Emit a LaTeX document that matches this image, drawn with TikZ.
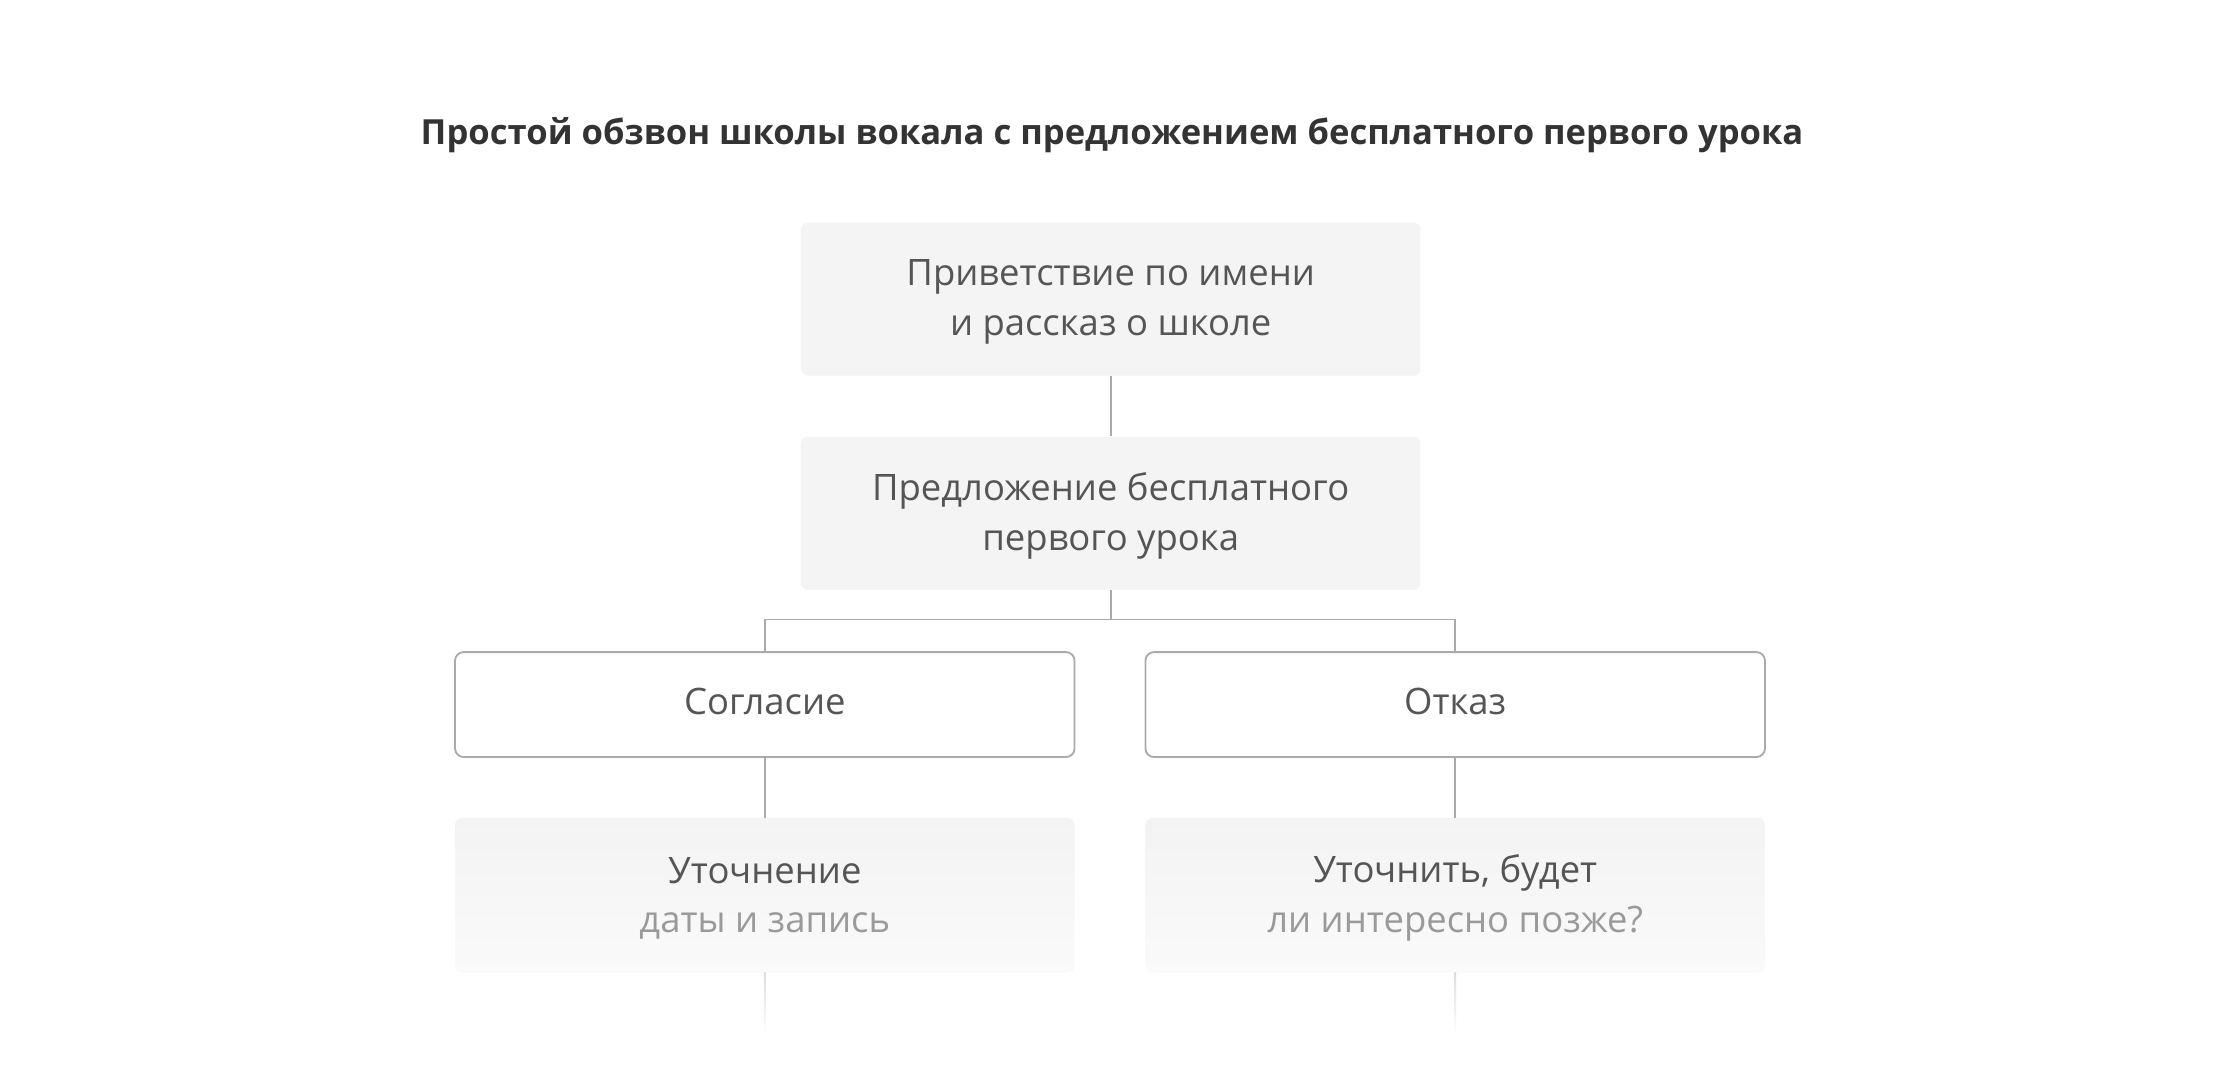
\documentclass[tikz,border=0pt]{standalone}
\usepackage{fontspec}
\setmainfont{Open Sans}
\usetikzlibrary{calc,backgrounds}
\definecolor{txt}{HTML}{555555}
\definecolor{sub}{HTML}{9A9A9A}
\definecolor{ttl}{HTML}{333333}
\definecolor{ln}{HTML}{AAAAAA}
\definecolor{lnfade}{HTML}{DDDDDD}
\definecolor{boxfill}{HTML}{F4F4F4}
\definecolor{fadetop}{HTML}{F3F3F3}
\definecolor{fadebot}{HTML}{FAFAFA}
\newcommand\liftup[1]{\raisebox{2pt}[\height][\depth]{#1}}
\newcommand\twoline[2]{\raisebox{-2pt}[\height][\depth]{\parbox[c]{430pt}{\centering #1\\#2}}}
\tikzset{
  boxtext/.style={font=\fontsize{25.7}{34.8}\selectfont, text=txt},
  graybox/.style={boxtext, fill=boxfill, rounded corners=5pt, minimum width=437pt, minimum height=108pt,
    align=center, inner sep=0pt},
  whitebox/.style={boxtext, fill=white, draw=ln, line width=1.3pt, rounded corners=6pt, minimum width=437pt,
    minimum height=74pt, align=center, inner sep=0pt},
  fadebox/.style={boxtext, rounded corners=5pt, top color=fadetop, bottom color=fadebot, minimum width=437pt,
    minimum height=109pt, align=center, inner sep=0pt},
  conn/.style={draw=ln, line width=1.3pt},
  titletext/.style={font=\bfseries\fontsize{24.4}{30}\selectfont, text=ttl},
}
\begin{document}
\begin{tikzpicture}[x=1pt,y=-1pt]
\useasboundingbox[fill=white] (0,0) rectangle (1566,763.2);
\node[titletext] (title) at (784.5,95) {Простой обзвон школы вокала с предложением бесплатного первого урока};
\node[graybox] (b1) at (783.5,211) {\twoline{Приветствие по имени}{и рассказ о школе}};
\node[graybox] (b2) at (783.5,362) {\twoline{Предложение бесплатного}{первого урока}};
\node[whitebox] (b3) at (539.5,497) {\liftup{Согласие}};
\node[whitebox] (b4) at (1026.5,497) {\liftup{Отказ}};
\node[fadebox] (b5) at (539.5,631.5) {\twoline{Уточнение}{\textcolor{sub}{даты и запись}}};
\node[fadebox] (b6) at (1026.5,631.5) {\twoline{Уточнить, будет}{\textcolor{sub}{ли интересно позже?}}};
\coordinate (j) at (783.5,437);
\coordinate (e5) at (539.5,730);
\coordinate (e6) at (1026.5,730);
\begin{scope}[on background layer]
  \foreach \n in {b3,b4}{
    \foreach \i in {1,...,14}{
      \fill[black, opacity=0.0075, rounded corners={6pt+\i*2.5pt}]
        ($(\n.south west)+(-\i*2.5pt,-\i*2.5pt-9pt)$) rectangle ($(\n.north east)+(\i*2.5pt,\i*2.5pt-9pt)$);
    }
  }
\end{scope}
\draw[conn] (b1.south) -- (b2.north);
\draw[conn] (b2.south) -- (j) -| (b3.north);
\draw[conn] (j) -| (b4.north);
\draw[conn] (b3.south) -- (b5.north);
\draw[conn] (b4.south) -- (b6.north);
\shade[top color=lnfade, bottom color=white] ($(b5.south)+(-0.6pt,0)$) rectangle ($(e5)+(0.6pt,0)$);
\shade[top color=lnfade, bottom color=white] ($(b6.south)+(-0.6pt,0)$) rectangle ($(e6)+(0.6pt,0)$);
\end{tikzpicture}
\end{document}
